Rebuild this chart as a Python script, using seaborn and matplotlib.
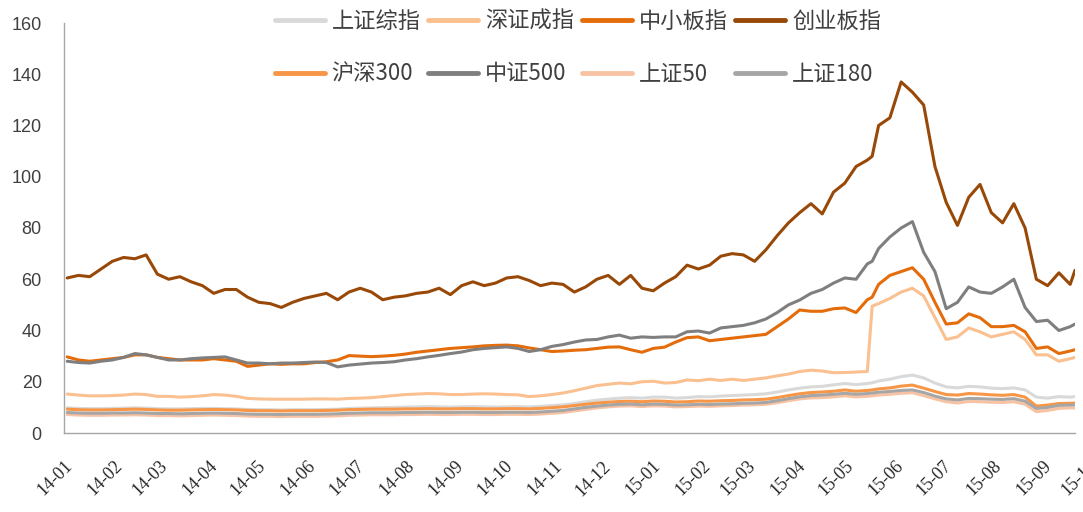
import matplotlib
matplotlib.use("Agg")
import matplotlib.pyplot as plt
import matplotlib.transforms as mtransforms
from matplotlib.lines import Line2D
import pandas as pd
import seaborn as sns

# Weekly observation dates (Fridays) plus two extra trading days
weekly = list(pd.date_range("2014-01-03", periods=90, freq="7D"))
dates = sorted(weekly + [pd.Timestamp("2015-05-18"), pd.Timestamp("2015-09-21")])

# Index valuation series (P/E), one value per date
sh_comp = [9.8, 9.6, 9.5, 9.5, 9.6, 9.7, 9.8, 9.7, 9.5, 9.4, 9.4, 9.5, 9.6, 9.6, 9.5, 9.4,
           9.2, 9.1, 9.1, 9.0, 9.1, 9.1, 9.1, 9.2, 9.3, 9.6, 9.7, 9.8, 9.9, 10.0, 10.1,
           10.2, 10.3, 10.2, 10.1, 10.2, 10.3, 10.2, 10.1, 10.2, 10.3, 10.2, 10.4, 10.7, 11.0, 11.5,
           12.2, 12.8, 13.2, 13.6, 13.8, 13.6, 14.0, 14.0, 13.6, 13.8, 14.2, 14.1, 14.4, 14.6, 14.8,
           15.0, 15.3, 16.0, 16.8, 17.5, 18.0, 18.2, 18.8, 19.3, 18.9, 19.3,
           19.6,
           20.3, 21.0, 22.0, 22.6, 21.5, 19.5, 18.0, 17.6, 18.2, 18.0, 17.5, 17.3, 17.6, 16.8, 14.0, 13.6, 14.2, 14.0,
           14.2]
sz_comp = [15.2, 14.8, 14.5, 14.5, 14.6, 14.8, 15.2, 15.0, 14.3, 14.3, 14.0, 14.2, 14.5, 15.0, 14.8, 14.3,
           13.5, 13.3, 13.2, 13.2, 13.2, 13.2, 13.3, 13.3, 13.2, 13.5, 13.6, 13.8, 14.2, 14.6, 15.0,
           15.2, 15.4, 15.3, 15.0, 15.0, 15.2, 15.3, 15.2, 15.0, 14.9, 14.2, 14.5, 15.0, 15.6, 16.5,
           17.5, 18.5, 19.0, 19.5, 19.2, 20.0, 20.2, 19.5, 19.7, 20.7, 20.4, 21.0, 20.5, 21.0, 20.5,
           21.0, 21.5, 22.3, 23.0, 24.0, 24.5, 24.2, 23.5, 23.6, 23.8, 24.0,
           49.5,
           50.5, 52.5, 55.0, 56.5, 53.5, 45.0, 36.5, 37.5, 41.0, 39.5, 37.5, 38.5, 39.5, 36.5, 30.5, 30.5, 28.0, 29.0,
           29.5]
sme = [29.7, 28.5, 28.0, 28.5, 29.0, 29.5, 30.5, 30.5, 29.5, 29.0, 28.5, 28.5, 28.5, 29.0, 28.5, 28.0,
       26.0, 26.5, 27.0, 26.8, 27.0, 27.0, 27.5, 27.8, 28.5, 30.2, 30.0, 29.8, 30.0, 30.3, 30.8,
       31.5, 32.0, 32.5, 33.0, 33.3, 33.6, 34.0, 34.2, 34.3, 34.0, 33.2, 32.5, 31.8, 32.0, 32.3,
       32.5, 33.0, 33.5, 33.6, 32.5, 31.5, 33.0, 33.5, 35.5, 37.2, 37.5, 36.0, 36.5, 37.0, 37.5,
       38.0, 38.5, 41.5, 44.5, 48.0, 47.5, 47.5, 48.5, 48.8, 47.0, 52.0,
       53.0,
       58.0, 61.5, 63.0, 64.5, 60.0, 51.0, 42.5, 43.0, 46.5, 45.0, 41.5, 41.5, 42.0, 39.5, 33.0, 33.6, 31.0, 32.0,
       32.5]
chinext = [60.5, 61.5, 61.0, 64.0, 67.0, 68.5, 68.0, 69.5, 62.0, 60.0, 61.0, 59.0, 57.5, 54.5, 56.0, 56.0,
           53.0, 51.0, 50.5, 49.0, 51.0, 52.5, 53.5, 54.5, 52.0, 55.0, 56.5, 55.0, 52.0, 53.0, 53.5,
           54.5, 55.0, 56.5, 54.0, 57.5, 59.0, 57.5, 58.5, 60.5, 61.0, 59.5, 57.5, 58.5, 58.0, 55.0,
           57.0, 60.0, 61.5, 58.0, 61.5, 56.5, 55.5, 58.5, 61.0, 65.5, 64.0, 65.5, 69.0, 70.0, 69.5,
           67.0, 71.5, 77.0, 82.0, 86.0, 89.5, 85.5, 94.0, 97.5, 104.0, 106.5,
           108.0,
           120.0, 123.0, 137.0, 133.0, 128.0, 104.0, 90.0, 81.0, 92.0, 97.0, 86.0, 82.0, 89.5, 80.0, 60.0, 57.5, 62.5, 58.0,
           63.5]
hs300 = [9.3, 9.1, 9.0, 9.0, 9.1, 9.2, 9.3, 9.2, 9.0, 8.9, 8.9, 9.0, 9.1, 9.2, 9.1, 9.0,
         8.8, 8.7, 8.7, 8.6, 8.7, 8.7, 8.7, 8.8, 8.9, 9.1, 9.2, 9.3, 9.3, 9.3, 9.4,
         9.4, 9.5, 9.4, 9.4, 9.5, 9.5, 9.4, 9.4, 9.5, 9.5, 9.4, 9.6, 9.9, 10.2, 10.7,
         11.2, 11.7, 12.0, 12.3, 12.4, 12.2, 12.5, 12.4, 12.1, 12.2, 12.5, 12.4, 12.6, 12.7, 12.9,
         13.0, 13.2, 13.8, 14.6, 15.3, 15.8, 16.0, 16.3, 16.8, 16.3, 16.6,
         16.8,
         17.2, 17.6, 18.3, 18.7, 17.5, 16.2, 15.0, 14.8, 15.4, 15.2, 14.9, 14.7, 15.0, 14.0, 10.5, 10.9, 11.5, 11.6,
         11.7]
csi500 = [28.0, 27.5, 27.3, 28.0, 28.5, 29.5, 31.0, 30.5, 29.5, 28.5, 28.5, 29.0, 29.3, 29.5, 29.7, 28.5,
          27.3, 27.3, 27.0, 27.3, 27.3, 27.5, 27.7, 27.5, 25.8, 26.5, 26.9, 27.3, 27.5, 27.8, 28.5,
          29.0, 29.7, 30.3, 31.0, 31.6, 32.5, 33.0, 33.3, 33.6, 33.0, 31.8, 32.5, 33.8, 34.5, 35.5,
          36.3, 36.5, 37.5, 38.2, 37.0, 37.5, 37.3, 37.5, 37.5, 39.5, 39.8, 39.0, 41.0, 41.5, 42.0,
          43.0, 44.5, 47.0, 50.0, 51.9, 54.5, 56.0, 58.5, 60.5, 60.0, 66.0,
          67.0,
          72.0, 76.5, 80.0, 82.5, 70.5, 63.0, 48.5, 51.0, 57.0, 55.0, 54.5, 57.0, 60.0, 49.0, 43.5, 44.0, 40.0, 41.5,
          42.5]
sse50 = [7.2, 7.0, 6.9, 6.9, 7.0, 7.0, 7.1, 7.0, 6.8, 6.8, 6.7, 6.8, 6.9, 7.0, 6.9, 6.8,
         6.6, 6.5, 6.5, 6.4, 6.5, 6.5, 6.5, 6.6, 6.7, 6.9, 7.0, 7.1, 7.1, 7.1, 7.2,
         7.2, 7.3, 7.2, 7.2, 7.3, 7.3, 7.2, 7.2, 7.3, 7.3, 7.2, 7.4, 7.7, 8.0, 8.6,
         9.2, 9.8, 10.2, 10.5, 10.6, 10.3, 10.6, 10.5, 10.2, 10.3, 10.5, 10.4, 10.6, 10.7, 10.9,
         11.0, 11.2, 11.8, 12.6, 13.3, 13.7, 13.8, 14.1, 14.5, 14.1, 14.3,
         14.5,
         14.8, 15.1, 15.5, 15.7, 14.6, 13.3, 12.2, 11.7, 12.3, 12.2, 12.0, 11.9, 12.2, 11.2, 8.3, 8.8, 9.6, 9.8,
         9.8]
sse180 = [8.0, 7.8, 7.7, 7.7, 7.8, 7.8, 7.9, 7.8, 7.6, 7.6, 7.5, 7.6, 7.7, 7.8, 7.7, 7.6,
          7.4, 7.3, 7.3, 7.2, 7.3, 7.3, 7.3, 7.4, 7.5, 7.7, 7.8, 7.9, 7.9, 7.9, 8.0,
          8.0, 8.1, 8.0, 8.0, 8.1, 8.1, 8.0, 8.0, 8.1, 8.1, 8.0, 8.2, 8.5, 8.8, 9.4,
          10.0, 10.5, 10.9, 11.2, 11.3, 11.0, 11.3, 11.2, 10.9, 11.0, 11.2, 11.1, 11.3, 11.4, 11.6,
          11.7, 11.9, 12.6, 13.4, 14.1, 14.6, 14.8, 15.1, 15.5, 15.1, 15.4,
          15.6,
          15.9, 16.2, 16.6, 16.8, 15.8, 14.4, 13.3, 12.9, 13.5, 13.4, 13.2, 13.1, 13.4, 12.4, 9.6, 10.0, 10.8, 10.9,
          11.0]

names = ["上证综指", "深证成指", "中小板指", "创业板指", "沪深300", "中证500", "上证50", "上证180"]
series = [sh_comp, sz_comp, sme, chinext, hs300, csi500, sse50, sse180]
colors = ["#d9d9d9", "#fac090", "#e46c0a", "#984807", "#f79646", "#7f7f7f", "#f8c3a4", "#a6a6a6"]

month_ticks = list(pd.date_range("2014-01-01", "2015-09-01", freq="MS"))
month_labels = [d.strftime("%y-%m") for d in month_ticks]

# ---- build long-form table ----
wide = pd.DataFrame({"date": dates})
for n, s in zip(names, series):
    wide[n] = s
long = wide.melt(id_vars="date", var_name="index", value_name="pe")

sns.set_theme(style="white")
plt.rcParams["font.family"] = ["Noto Sans CJK SC", "DejaVu Sans"]

fig = plt.figure(figsize=(10.83, 5.12), dpi=100)
ax = fig.add_axes([64 / 1083, 1 - 433 / 512, (1075 - 64) / 1083, (433 - 23) / 512])

sns.lineplot(data=long, x="date", y="pe", hue="index", hue_order=names,
             palette=dict(zip(names, colors)), linewidth=2.2, estimator=None,
             legend=False, ax=ax)

ax.set_xlim(pd.Timestamp("2014-01-01"), pd.Timestamp("2015-09-21"))
ax.set_ylim(0, 160)
ax.set_yticks(range(0, 161, 20))
ax.set_yticklabels([str(v) for v in range(0, 161, 20)], family="Liberation Sans",
                   fontsize=13, color="#404040")
xlab_size = 13
xlab_pad = 22
ax.set_xticks(month_ticks)
ax.set_xticklabels(month_labels, rotation=45, ha="right", va="center",
                   rotation_mode="anchor", family="Liberation Serif",
                   fontsize=xlab_size, color="#262626")
ax.tick_params(axis="x", length=0, pad=xlab_pad)
ax.tick_params(axis="y", length=0, pad=16)
ax.set_xlabel("")
ax.set_ylabel("")

# nudge the slanted month labels a little to the right of their ticks
nudge = mtransforms.ScaledTranslation(6 / 100, 0, fig.dpi_scale_trans)
for lab in ax.get_xticklabels():
    lab.set_transform(lab.get_transform() + nudge)

# label for the following month, running off the right edge
trans = mtransforms.offset_copy(ax.get_xaxis_transform(), fig=fig, x=2, y=-xlab_pad, units="points")
ax.text(pd.Timestamp("2015-10-01"), 0, "15-10", transform=trans, rotation=45,
        ha="right", va="center", rotation_mode="anchor", family="Liberation Serif",
        fontsize=xlab_size, color="#262626", clip_on=False)

for side in ["top", "right"]:
    ax.spines[side].set_visible(False)
for side in ["left", "bottom"]:
    ax.spines[side].set_color("#a6a6a6")
    ax.spines[side].set_linewidth(1)

# legend: two rows of four, filled column by column
order = [0, 4, 1, 5, 2, 6, 3, 7]
handles = [Line2D([], [], color=colors[i], linewidth=3.5) for i in order]
labels = [names[i] for i in order]
fig.legend(handles, labels, ncol=4, loc="upper left",
           bbox_to_anchor=(275 / 1083, 1 - 10 / 512), frameon=False,
           prop={"family": ["Noto Sans CJK SC", "DejaVu Sans"], "size": 16},
           handlelength=2.25, handletextpad=0.3, columnspacing=0.35,
           labelspacing=1.32, borderpad=0, borderaxespad=0, labelcolor="#404040")

fig.savefig("out.png", dpi=100)
